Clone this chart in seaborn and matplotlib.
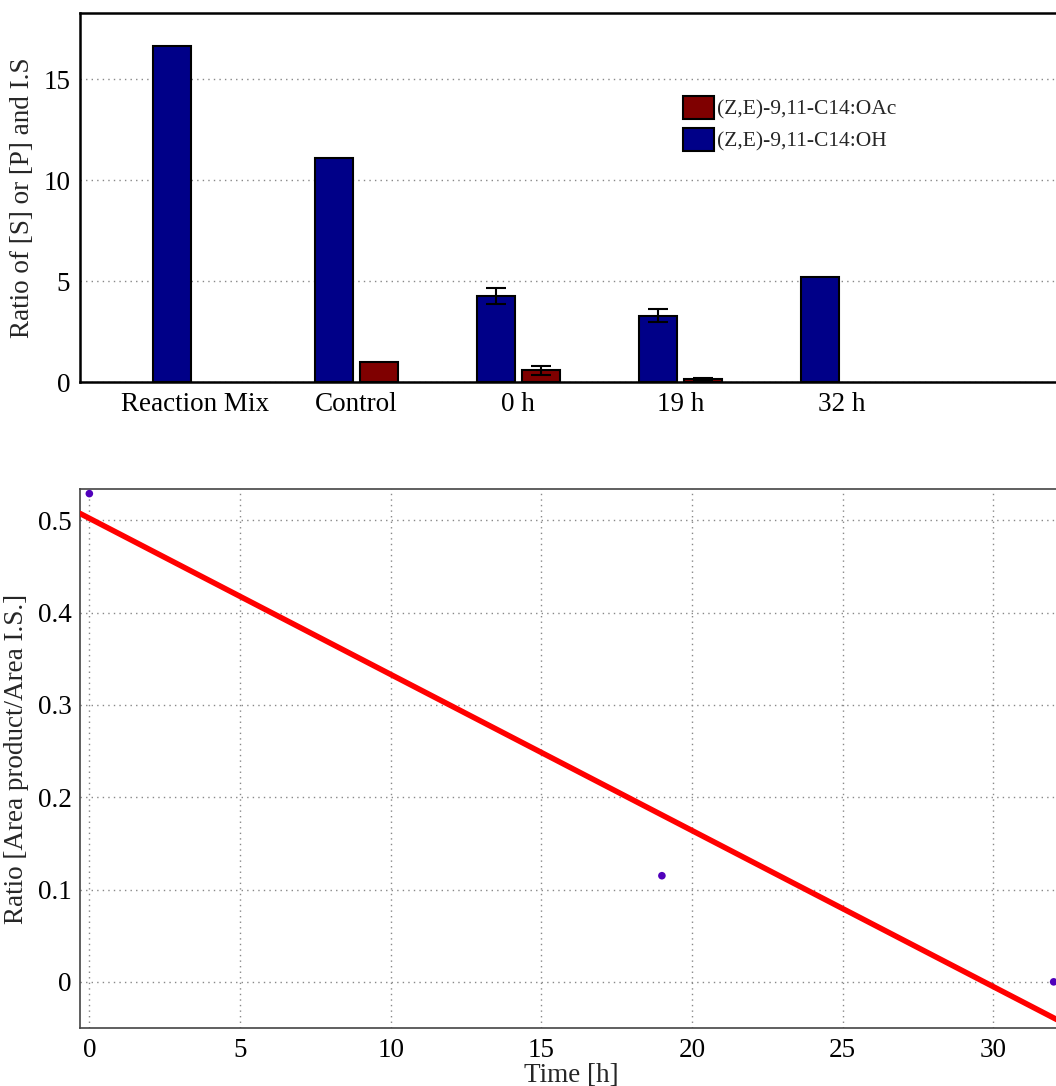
import numpy as np
import pandas as pd
import matplotlib
matplotlib.use("Agg")
import matplotlib.pyplot as plt
import seaborn as sns

# ---------------- data ----------------
categories = ["Reaction Mix", "Control", "0 h", "19 h", "32 h"]
oh_values = [16.65, 11.07, 4.25, 3.27, 5.18]
oh_errors = [0.0, 0.0, 0.38, 0.32, 0.0]
oac_values = [np.nan, 1.0, 0.57, 0.15, np.nan]
oac_errors = [0.0, 0.0, 0.22, 0.05, 0.0]
series_labels = ["(Z,E)-9,11-C14:OH", "(Z,E)-9,11-C14:OAc"]

time_h = [0, 19, 32]
ratio = [0.529, 0.115, 0.0]

# ---------------- style ----------------
sns.set_theme(style="white")
plt.rcParams["font.family"] = ["Liberation Serif", "DejaVu Serif"]

FS = 19.5
W, H = 1056, 1086
fig = plt.figure(figsize=(W / 100, H / 100), dpi=100)

# ---------------- top panel: bars ----------------
ax1 = fig.add_axes([80 / W, 1 - 382 / H, (1085 - 80) / W, (382 - 13) / H])

rows = []
for c, v, e in zip(categories, oh_values, oh_errors):
    rows.append((c, series_labels[0], v, e))
for c, v, e in zip(categories, oac_values, oac_errors):
    rows.append((c, series_labels[1], v, e))
df = pd.DataFrame(rows, columns=["cat", "series", "value", "err"]).dropna()

palette = {series_labels[0]: "#000088", series_labels[1]: "#7f0000"}
sns.barplot(data=df, x="cat", y="value", hue="series", order=categories,
            hue_order=series_labels, palette=palette, errorbar=None,
            width=0.56, gap=0.16, edgecolor="black", linewidth=1.5,
            saturation=1, ax=ax1)

# error bars positioned at the drawn bars
for cont, lab in zip(ax1.containers, series_labels):
    sub = df[df["series"] == lab].set_index("cat").reindex(categories).dropna()
    xs = [p.get_x() + p.get_width() / 2 for p in cont.patches]
    hs = [p.get_height() for p in cont.patches]
    errs = list(sub["err"].values)
    for x, h, e in zip(xs, hs, errs):
        if e > 0:
            ax1.errorbar(x, h, yerr=e, fmt="none", ecolor="black",
                         elinewidth=1.5, capsize=7, capthick=1.5, zorder=5)

ax1.set_xlim(-0.708, -0.708 + (1085 - 80) / 161.9)
ax1.set_ylim(0, 18.27)
ax1.set_yticks([0, 5, 10, 15])
ax1.set_yticklabels(["0", "5", "10", "15"])
ax1.yaxis.grid(True, linestyle=(0, (1, 3)), color="#888888", linewidth=1.0)
ax1.xaxis.grid(False)
ax1.set_axisbelow(True)
ax1.tick_params(axis="both", length=0, labelsize=FS, colors="black", pad=7)
ax1.set_xlabel("")
ax1.set_ylabel("Ratio of [S] or [P] and I.S", fontsize=FS, labelpad=6)
for s in ax1.spines.values():
    s.set_color("black")
    s.set_linewidth(1.8)

handles, labels = ax1.get_legend_handles_labels()
order = [labels.index(series_labels[1]), labels.index(series_labels[0])]
ax1.legend([handles[i] for i in order], [labels[i] for i in order],
           loc="upper left", bbox_to_anchor=(683 / W, 1 - 96 / H),
           bbox_transform=fig.transFigure, frameon=False, fontsize=15.5,
           handlelength=1.45, handleheight=1.25, handletextpad=0.12,
           labelspacing=0.4, borderpad=0, borderaxespad=0)

# ---------------- bottom panel: regression ----------------
ax2 = fig.add_axes([80 / W, 1 - 1028 / H, (1063 - 80) / W, (1028 - 489) / H])
xmin, xmax = -0.31, 32.31
ax2.set_xlim(xmin, xmax)
df2 = pd.DataFrame({"time": time_h, "ratio": ratio})
sns.regplot(data=df2, x="time", y="ratio", ci=None, truncate=False, ax=ax2,
            scatter_kws=dict(s=30, color="#5000bb", alpha=1, edgecolor="none",
                             zorder=4, clip_on=False),
            line_kws=dict(color="#ff0000", linewidth=4, zorder=3))
ax2.set_xlim(xmin, xmax)
ax2.set_ylim(-0.05, 0.534)
ax2.set_xticks([0, 5, 10, 15, 20, 25, 30])
ax2.set_yticks([0, 0.1, 0.2, 0.3, 0.4, 0.5])
ax2.set_yticklabels(["0", "0.1", "0.2", "0.3", "0.4", "0.5"])
ax2.grid(True, linestyle=(0, (1, 3)), color="#888888", linewidth=1.0)
ax2.set_axisbelow(True)
ax2.tick_params(axis="both", direction="in", length=6.5, width=1,
                color="#444444", labelsize=FS, labelcolor="black", pad=6)
ax2.tick_params(axis="x", pad=7)
ax2.set_xlabel("Time [h]", fontsize=FS, labelpad=0)
ax2.set_ylabel("Ratio [Area product/Area I.S.]", fontsize=FS, labelpad=6)
for s in ax2.spines.values():
    s.set_color("#444444")
    s.set_linewidth(1.2)

fig.savefig("out.png", dpi=100)
